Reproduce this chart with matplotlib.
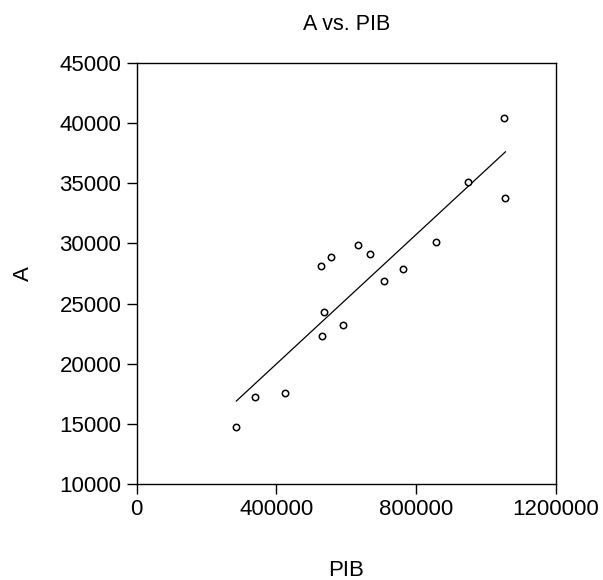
import matplotlib
matplotlib.use('Agg')
import matplotlib.pyplot as plt
import numpy as np

plt.rcParams['font.family'] = ['Liberation Sans', 'DejaVu Sans']

# values
pib = [285200, 339600, 424600, 527700, 556300, 537200, 529600, 589800,
       632700, 668800, 708900, 762400, 856000, 949500, 1052500, 1055300]
a = [14717, 17192, 17525, 28108, 28883, 24333, 22300, 23192,
     29858, 29083, 26917, 27883, 30083, 35133, 40442, 33800]

x_ticks = [0, 400000, 800000, 1200000]
y_ticks = [10000, 15000, 20000, 25000, 30000, 35000, 40000, 45000]

fig = plt.figure(figsize=(6.03, 5.8), dpi=100)
ax = fig.add_axes([136.7 / 603, 1 - 484 / 580, (556 - 136.7) / 603, (484 - 63) / 580])

# regression line over the data range
slope, intercept = np.polyfit(pib, a, 1)
xl = np.array([min(pib), max(pib)])
ax.plot(xl, slope * xl + intercept, color='black', linewidth=0.9)

ax.plot(pib, a, linestyle='none', marker='o', markersize=4.6,
        markerfacecolor='white', markeredgecolor='black', markeredgewidth=1.1)

ax.set_xlim(0, 1200000)
ax.set_ylim(10000, 45000)
ax.set_xticks(x_ticks)
ax.set_yticks(y_ticks)
ax.set_xticklabels([str(v) for v in x_ticks])
ax.set_yticklabels([str(v) for v in y_ticks])
ax.tick_params(direction='out', length=7, width=1, labelsize=16, pad=4,
               top=False, right=False)
for s in ax.spines.values():
    s.set_linewidth(1)

ax.set_title('A vs. PIB', fontsize=15.5, pad=24)
ax.set_xlabel('PIB', fontsize=16)
ax.set_ylabel('A', fontsize=16)
ax.xaxis.set_label_coords(0.5, -0.18)
ax.yaxis.set_label_coords(-0.245, 0.5)

plt.savefig('out.png', dpi=100)
plt.close()
